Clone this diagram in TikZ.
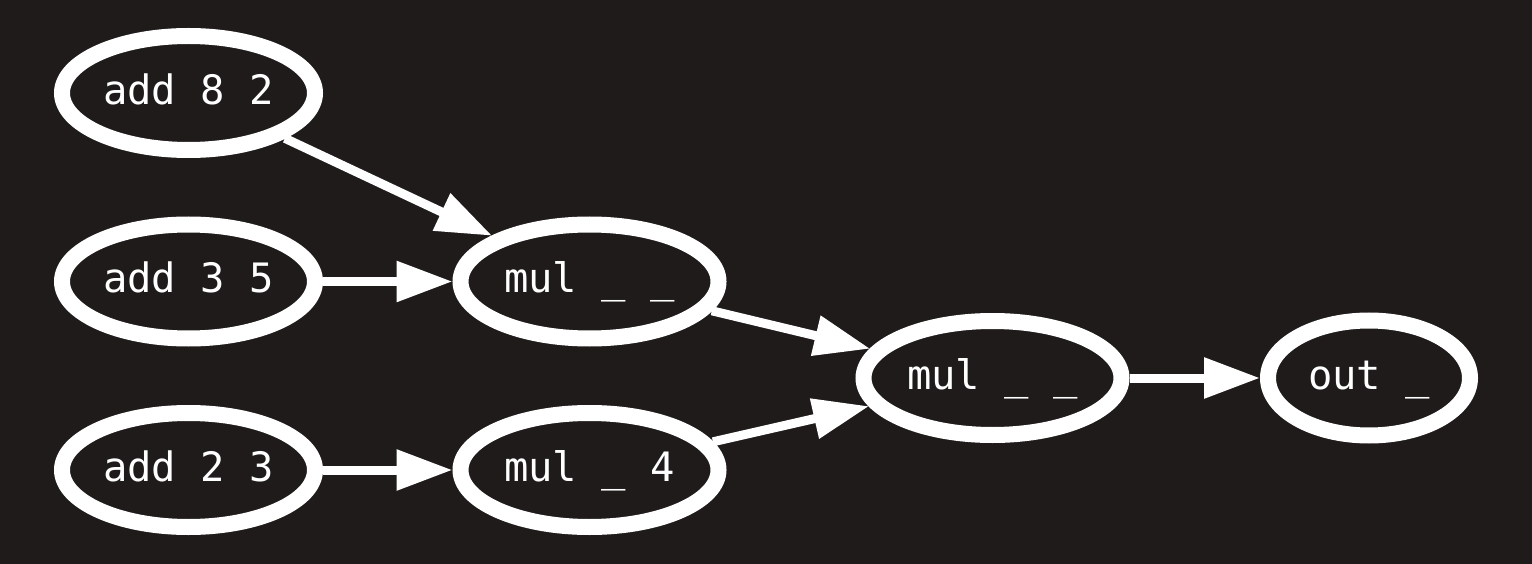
\documentclass[tikz,border=0pt]{standalone}
\usepackage{fontspec}
\setmonofont{DejaVu Sans Mono}
\usetikzlibrary{shapes.geometric,arrows.meta}
\definecolor{bgc}{RGB}{31,27,26}
\begin{document}
\begin{tikzpicture}[x=1pt,y=-1pt,
  op/.style={ellipse,draw=white,line width=16pt,inner sep=0pt,
    text=white,font=\ttfamily\fontsize{40.5}{48}\selectfont,
    text height=30pt,text depth=7pt},
  addn/.style={op,minimum width=253pt,minimum height=114pt},
  muln/.style={op,minimum width=258pt,minimum height=114pt},
  outn/.style={op,minimum width=202pt,minimum height=115pt},
  edge/.style={draw=white,line width=9pt,-{Triangle[length=56pt,width=39pt]}}]
\fill[bgc] (0,0) rectangle (1532,564);
\useasboundingbox (0,0) rectangle (1532,564);
\node[addn] (a1) at (188.5,93) {add 8 2};
\node[addn] (a2) at (188.5,281.5) {add 3 5};
\node[addn] (a3) at (188.5,470) {add 2 3};
\node[muln] (m1) at (589.5,281.5) {mul \_ \_};
\node[muln] (m2) at (589.5,470) {mul \_ 4};
\node[muln] (m3) at (992.5,378) {mul \_ \_};
\node[outn] (o) at (1369,378) {out \_};
\draw[edge] (a1) -- (m1);
\draw[edge] (a2) -- (m1);
\draw[edge] (a3) -- (m2);
\draw[edge] (m1) -- (m3);
\draw[edge] (m2) -- (m3);
\draw[edge] (m3) -- (o);
\end{tikzpicture}
\end{document}
